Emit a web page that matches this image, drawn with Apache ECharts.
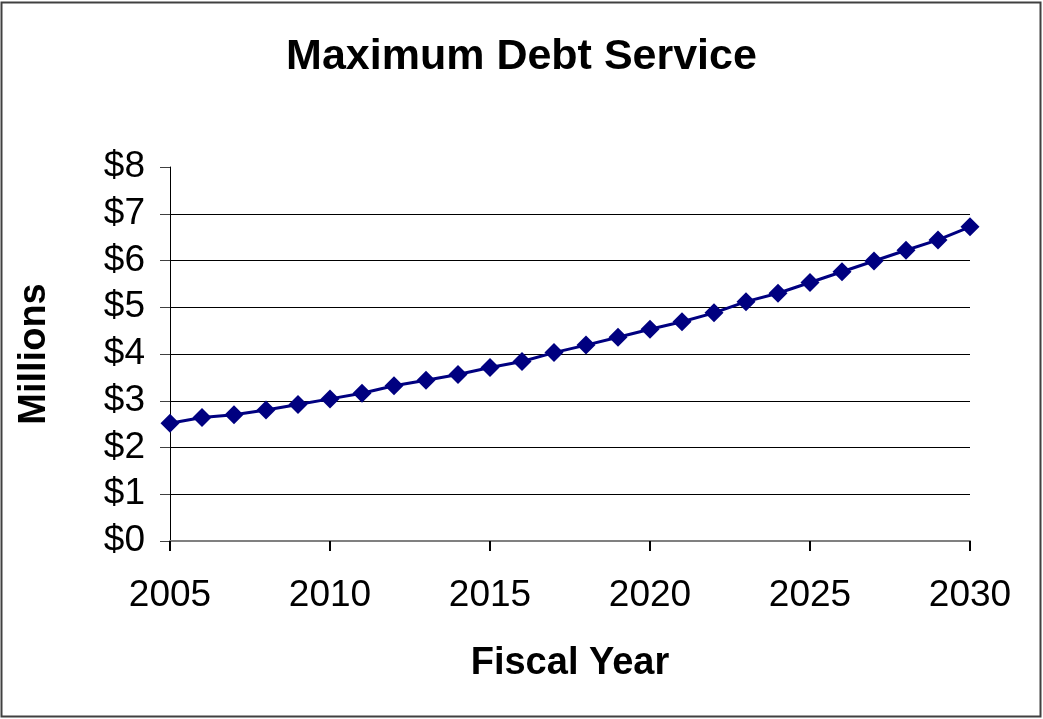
<!DOCTYPE html>
<html>
<head>
<meta charset="utf-8">
<script src="https://cdn.jsdelivr.net/npm/echarts@6/dist/echarts.min.js"></script>
<style>
html,body{margin:0;padding:0;background:#fff;}
#chart{width:1043px;height:719px;}
</style>
</head>
<body>
<div id="chart"></div>
<script>
const years = [2005,2006,2007,2008,2009,2010,2011,2012,2013,2014,2015,2016,2017,2018,2019,2020,2021,2022,2023,2024,2025,2026,2027,2028,2029,2030];
const debtService = [2.52,2.64,2.70,2.80,2.92,3.04,3.16,3.32,3.44,3.56,3.71,3.84,4.03,4.19,4.36,4.53,4.69,4.88,5.12,5.30,5.53,5.76,5.99,6.22,6.44,6.72];
const yTicks = [0,1,2,3,4,5,6,7,8];
const xTicks = [2005,2010,2015,2020,2025,2030];

const FONT = '"Liberation Sans", Arial, sans-serif';
const chart = echarts.init(document.getElementById('chart'));
chart.setOption({
  animation: false,
  backgroundColor: '#fff',
  title: {
    text: 'Maximum Debt Service',
    left: 'center',
    top: 31,
    textStyle: {fontFamily: FONT, fontSize: 43, fontWeight: 'bold', color: '#000'}
  },
  graphic: [{
    type: 'rect',
    shape: {x: 1.5, y: 2.5, width: 1039, height: 714},
    style: {fill: 'none', stroke: '#404040', lineWidth: 2},
    silent: true
  }],
  grid: {left: 170, right: 73, top: 167, bottom: 178, containLabel: false, outerBoundsMode: 'none'},
  xAxis: {
    type: 'value',
    min: xTicks[0],
    max: xTicks[xTicks.length - 1],
    interval: 5,
    name: 'Fiscal Year',
    nameLocation: 'middle',
    nameGap: 104,
    nameMoveOverlap: false,
    nameTextStyle: {fontFamily: FONT, fontSize: 38, fontWeight: 'bold', color: '#000'},
    axisLine: {show: true, onZero: false, lineStyle: {color: '#808080', width: 2}},
    axisTick: {show: true, inside: false, length: 10, lineStyle: {color: '#000', width: 2}},
    axisLabel: {fontFamily: FONT, fontSize: 37, color: '#000', margin: 36, formatter: v => String(v)},
    splitLine: {show: false}
  },
  yAxis: {
    type: 'value',
    min: yTicks[0],
    max: yTicks[yTicks.length - 1],
    interval: 1,
    name: 'Millions',
    nameLocation: 'middle',
    nameGap: 116,
    nameRotate: 90,
    nameMoveOverlap: false,
    nameTextStyle: {fontFamily: FONT, fontSize: 38, fontWeight: 'bold', color: '#000'},
    axisLine: {show: true, lineStyle: {color: '#000', width: 1}},
    axisTick: {show: true, inside: false, length: 10, lineStyle: {color: '#404040', width: 1}},
    axisLabel: {fontFamily: FONT, fontSize: 37, color: '#000', margin: 25, formatter: v => '$' + v},
    splitLine: {show: true, showMaxLine: false, showMinLine: false, lineStyle: {color: '#000', width: 1}}
  },
  series: [{
    type: 'line',
    data: years.map((y, i) => [y, debtService[i]]),
    symbol: 'diamond',
    symbolSize: 19,
    lineStyle: {color: '#000080', width: 3},
    itemStyle: {color: '#000080'},
    z: 5
  }]
});
</script>
</body>
</html>
